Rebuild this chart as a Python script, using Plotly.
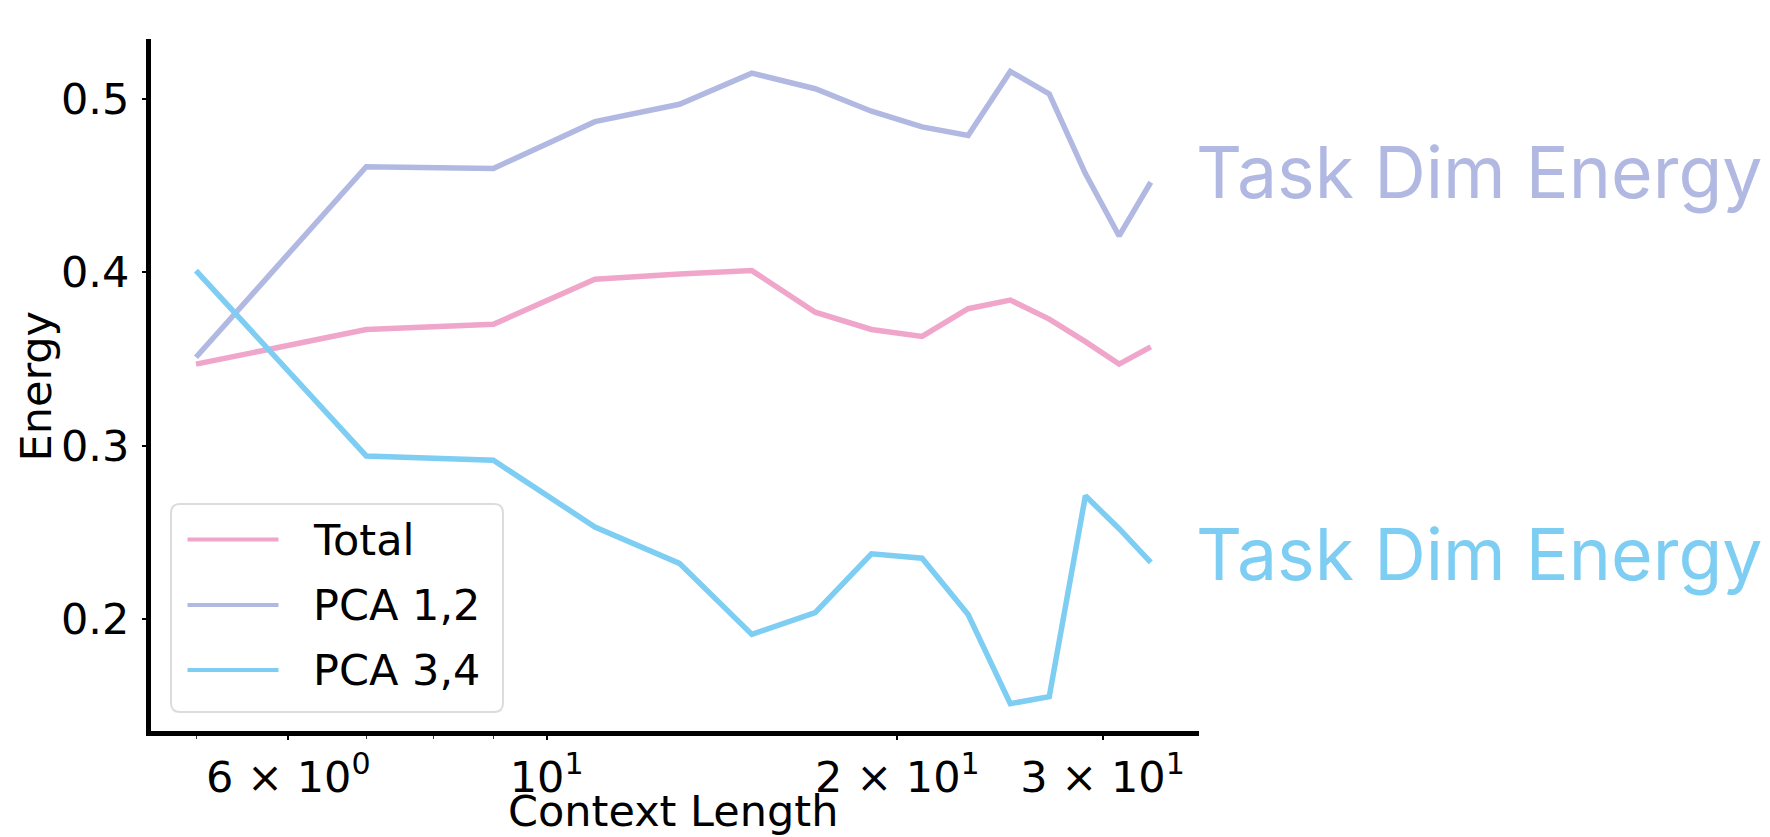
import plotly.graph_objects as go

# ---------------- data ----------------
context_length = [5, 7, 9, 11, 13, 15, 17, 19, 21, 23, 25, 27, 29, 31, 33]
total = [0.347, 0.367, 0.370, 0.396, 0.399, 0.401, 0.377, 0.367, 0.363, 0.379, 0.384, 0.373, 0.360, 0.347, 0.357]
pca_12 = [0.351, 0.461, 0.460, 0.487, 0.497, 0.515, 0.506, 0.493, 0.484, 0.479, 0.516, 0.503, 0.457, 0.421, 0.452]
pca_34 = [0.401, 0.294, 0.2915, 0.253, 0.232, 0.191, 0.2035, 0.2375, 0.235, 0.2025, 0.151, 0.155, 0.271, 0.252, 0.2325]

series_names = ["Total", "PCA 1,2", "PCA 3,4"]
series_colors = ["#F0A6CA", "#B1B9E2", "#7ECDF3"]

x_tickvals = [6, 10, 20, 30]
x_ticktext = ["6 × 10<sup>0</sup>", "10<sup>1</sup>", "2 × 10<sup>1</sup>", "3 × 10<sup>1</sup>"]
x_minor_tickvals = [5, 7, 8, 9]
y_tickvals = [0.2, 0.3, 0.4, 0.5]
y_ticktext = ["0.2", "0.3", "0.4", "0.5"]

side_labels = ["Task Dim Energy", "Task Dim Energy"]

# ---------------- layout geometry (pixels) ----------------
W, H = 1770, 837
PL, PR, PT, PB = 151, 1199, 39, 731

def px_x(p):
    return (p - PL) / (PR - PL)

def px_y(p):
    return (PB - p) / (PB - PT)

FONT = "DejaVu Sans"
FS = 43

fig = go.Figure()
for name, ys, col in zip(series_names, [total, pca_12, pca_34], series_colors):
    fig.add_trace(go.Scatter(x=context_length, y=ys, mode="lines", name=name,
                             line=dict(color=col, width=5.5), showlegend=False))

fig.update_layout(
    width=W, height=H,
    margin=dict(l=PL, r=W - PR, t=PT, b=H - PB, pad=0),
    plot_bgcolor="white", paper_bgcolor="white",
    font=dict(family=FONT, size=FS, color="black"),
    showlegend=False,
)
fig.update_xaxes(type="log", range=[0.66034, 1.55991],
                 tickmode="array", tickvals=x_tickvals, ticktext=x_ticktext,
                 minor=dict(tickvals=x_minor_tickvals, ticks="outside", ticklen=3,
                            tickwidth=1.2, tickcolor="#333", showgrid=False),
                 showline=True, linewidth=5, linecolor="black",
                 ticks="outside", ticklen=4, tickwidth=1.5, tickcolor="black",
                 ticklabelstandoff=0,
                 showgrid=False, zeroline=False,
                 tickfont=dict(family=FONT, size=FS, color="black"))
fig.update_yaxes(range=[0.13522, 0.53470],
                 tickvals=y_tickvals, ticktext=y_ticktext,
                 showline=True, linewidth=5, linecolor="black",
                 ticks="outside", ticklen=4, tickwidth=1.5, tickcolor="black",
                 ticklabelstandoff=4,
                 showgrid=False, zeroline=False,
                 tickfont=dict(family=FONT, size=FS, color="black"))

# axis titles
fig.add_annotation(text="Energy", xref="paper", yref="paper",
                   x=px_x(35), y=px_y(386.5), textangle=-90, showarrow=False,
                   xanchor="center", yanchor="middle",
                   font=dict(family=FONT, size=FS, color="black"))
fig.add_annotation(text="Context Length", xref="paper", yref="paper",
                   x=px_x(673), y=px_y(811), showarrow=False,
                   xanchor="center", yanchor="middle",
                   font=dict(family=FONT, size=FS, color="black"))

# legend box (matplotlib-style rounded frame)
x0, x1, y0, y1, r = 171, 503, 504, 712, 9
path = (f"M {px_x(x0 + r)},{px_y(y0)} L {px_x(x1 - r)},{px_y(y0)} "
        f"Q {px_x(x1)},{px_y(y0)} {px_x(x1)},{px_y(y0 + r)} "
        f"L {px_x(x1)},{px_y(y1 - r)} Q {px_x(x1)},{px_y(y1)} {px_x(x1 - r)},{px_y(y1)} "
        f"L {px_x(x0 + r)},{px_y(y1)} Q {px_x(x0)},{px_y(y1)} {px_x(x0)},{px_y(y1 - r)} "
        f"L {px_x(x0)},{px_y(y0 + r)} Q {px_x(x0)},{px_y(y0)} {px_x(x0 + r)},{px_y(y0)} Z")
fig.add_shape(type="path", path=path, xref="paper", yref="paper",
              line=dict(color="#DCDCDC", width=2), fillcolor="rgba(255,255,255,0.8)",
              layer="above")
legend_rows = [539.5, 605, 670]
for name, col, yy in zip(series_names, series_colors, legend_rows):
    fig.add_shape(type="line", xref="paper", yref="paper",
                  x0=px_x(187.5), x1=px_x(278.5), y0=px_y(yy), y1=px_y(yy),
                  line=dict(color=col, width=4), layer="above")
    fig.add_annotation(text=name, xref="paper", yref="paper",
                       x=px_x(311), y=px_y(yy), showarrow=False,
                       xanchor="left", yanchor="middle",
                       font=dict(family=FONT, size=FS, color="black"))

# side labels
for txt, col, yy in zip(side_labels, [series_colors[1], series_colors[2]], [172, 553.5]):
    fig.add_annotation(text=txt, xref="paper", yref="paper",
                       x=px_x(1194), y=px_y(yy), showarrow=False,
                       xanchor="left", yanchor="middle",
                       font=dict(family="Inter", size=71.5, color=col))

fig.write_html("out.html")
